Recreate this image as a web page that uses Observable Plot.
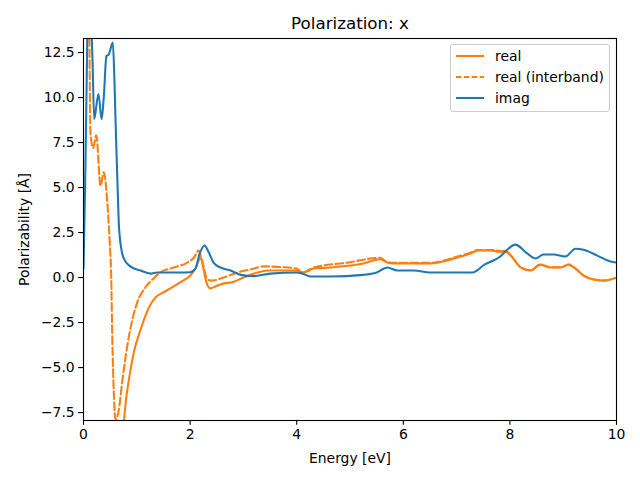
<!DOCTYPE html>
<html>
<head>
<meta charset="utf-8">
<script src="https://cdn.jsdelivr.net/npm/d3@7"></script>
<script src="https://cdn.jsdelivr.net/npm/@observablehq/plot@0.6"></script>
<style>
  html, body { margin: 0; padding: 0; background: #fff; }
  #wrap { position: relative; width: 640px; height: 480px; font-family: "DejaVu Sans", sans-serif; }
  #legend { position: absolute; left: 450px; top: 44px; width: 158px; height: 66px;
    border: 1px solid #cccccc; border-radius: 3px; background: rgba(255,255,255,0.8);
    font-size: 13.9px; color: #000; }
  .entry { position: absolute; left: 0; height: 20px; display: flex; align-items: center; }
  .entry svg { margin-left: 5px; margin-right: 11px; }
</style>
</head>
<body>
<div id="wrap"></div>
<script>
// ---- data ----
const seriesNames = ["real", "real (interband)", "imag"];
const seriesColors = ["#ff7f0e", "#ff7f0e", "#1f77b4"];

const energyReal = [0.70, 0.76, 0.79, 0.85, 0.94, 1.07, 1.23, 1.35, 1.50, 1.63, 1.82, 2.00, 2.10, 2.20, 2.25, 2.30, 2.38, 2.50, 2.63, 2.80, 3.00, 3.26, 3.45, 4.00, 4.13, 4.32, 4.63, 5.25, 5.57, 5.70, 5.82, 6.20, 6.50, 7.00, 7.26, 7.40, 7.64, 7.82, 7.92, 8.05, 8.20, 8.39, 8.57, 8.76, 8.95, 9.10, 9.23, 9.38, 9.57, 9.76, 10.0];
const valueReal  = [-12.0, -8.0, -7.0, -5.7, -4.2, -2.9, -1.65, -1.1, -0.82, -0.6, -0.25, 0.1, 0.5, 1.1, 0.5, -0.2, -0.6, -0.45, -0.33, -0.25, 0.0, 0.28, 0.39, 0.39, 0.28, 0.5, 0.56, 0.78, 1.02, 0.83, 0.78, 0.78, 0.78, 1.1, 1.33, 1.5, 1.5, 1.44, 1.44, 1.1, 0.56, 0.39, 0.72, 0.56, 0.56, 0.72, 0.5, 0.11, -0.11, -0.17, 0.0];

const energyInter = [0.08, 0.11, 0.13, 0.18, 0.24, 0.32, 0.38, 0.44, 0.49, 0.52, 0.54, 0.57, 0.60, 0.66, 0.73, 0.85, 1.00, 1.16, 1.31, 1.44, 1.69, 1.95, 2.07, 2.16, 2.22, 2.32, 2.40, 2.63, 2.89, 3.13, 3.38, 3.70, 4.00, 4.10, 4.32, 4.95, 5.57, 5.70, 5.85, 6.20, 6.50, 7.00, 7.26, 7.40, 7.64, 7.82, 7.92, 8.05, 8.20, 8.39, 8.57, 8.76, 8.95, 9.10, 9.23, 9.38, 9.57, 9.76, 10.0];
const valueInter  = [20.0, 13.3, 8.07, 7.2, 7.9, 5.1, 5.85, 4.46, 2.05, 0.0, -3.3, -6.5, -7.9, -7.4, -5.7, -3.3, -1.45, -0.55, -0.06, 0.28, 0.56, 0.83, 1.1, 1.5, 1.0, -0.06, -0.17, 0.0, 0.28, 0.45, 0.62, 0.58, 0.5, 0.28, 0.56, 0.83, 1.1, 0.85, 0.82, 0.82, 0.82, 1.15, 1.38, 1.53, 1.53, 1.48, 1.46, 1.12, 0.57, 0.4, 0.73, 0.57, 0.57, 0.73, 0.5, 0.12, -0.1, -0.16, 0.0];

const energyImag = [0.00, 0.03, 0.06, 0.08, 0.12, 0.17, 0.20, 0.28, 0.34, 0.38, 0.43, 0.475, 0.55, 0.58, 0.61, 0.64, 0.67, 0.75, 0.88, 1.07, 1.26, 1.38, 1.82, 2.00, 2.10, 2.18, 2.27, 2.35, 2.44, 2.57, 2.76, 2.95, 3.20, 3.50, 4.00, 4.10, 4.26, 4.63, 5.25, 5.50, 5.70, 5.89, 6.20, 6.50, 7.30, 7.38, 7.50, 7.82, 7.97, 8.10, 8.33, 8.48, 8.63, 8.82, 9.04, 9.23, 9.38, 9.64, 9.89, 10.0];
const valueImag  = [0.5, 5.0, 11.0, 14.5, 15.0, 12.0, 8.8, 10.2, 8.8, 10.0, 12.3, 12.4, 13.05, 11.0, 7.8, 5.0, 2.6, 1.1, 0.62, 0.39, 0.22, 0.28, 0.28, 0.3, 0.5, 1.33, 1.78, 1.4, 0.83, 0.56, 0.39, 0.15, 0.08, 0.22, 0.28, 0.22, 0.06, 0.06, 0.15, 0.28, 0.56, 0.39, 0.39, 0.28, 0.28, 0.39, 0.67, 1.17, 1.6, 1.83, 1.33, 1.06, 1.28, 1.28, 1.17, 1.6, 1.55, 1.22, 0.89, 0.83];

const xTicks = [0, 2, 4, 6, 8, 10];
const yTicks = [-7.5, -5.0, -2.5, 0.0, 2.5, 5.0, 7.5, 10.0, 12.5];
const titleText = "Polarization: x";
const xLabel = "Energy [eV]";
const yLabel = "Polarizability [Å]";

// ---- build tables ----
const real = energyReal.map((e, i) => ({e, v: valueReal[i]}));
const inter = energyInter.map((e, i) => ({e, v: valueInter[i]}));
const imag = energyImag.map((e, i) => ({e, v: valueImag[i]}));

const font = "DejaVu Sans, sans-serif";

const chart = Plot.plot({
  width: 640, height: 480,
  marginLeft: 83, marginRight: 24, marginTop: 38, marginBottom: 60,
  style: {fontFamily: font, fontSize: "13.9px", color: "#000", background: "#fff"},
  x: {domain: [0, 10]},
  y: {domain: [-7.94, 13.28]},
  marks: [
    Plot.line(real, {x: "e", y: "v", stroke: seriesColors[0], strokeWidth: 2.08, curve: "monotone-x", clip: true}),
    Plot.line(inter, {x: "e", y: "v", stroke: seriesColors[1], strokeWidth: 2.08, strokeDasharray: "7.7,3.3", curve: "monotone-x", clip: true}),
    Plot.line(imag, {x: "e", y: "v", stroke: seriesColors[2], strokeWidth: 2.08, curve: "monotone-x", clip: true}),
    Plot.frame({stroke: "#000", strokeWidth: 1.1}),
    Plot.axisX({ticks: xTicks, tickFormat: d3.format("d"), tickSize: 4.86, tickPadding: 4, strokeWidth: 1.1,
      label: xLabel, labelAnchor: "center", labelArrow: "none", labelOffset: 42, fontSize: 13.9}),
    Plot.axisY({ticks: yTicks, tickFormat: d3.format(".1f"), tickSize: 4.86, tickPadding: 4, strokeWidth: 1.1,
      label: yLabel, labelAnchor: "center", labelArrow: "none", labelOffset: 64, fontSize: 13.9}),
    Plot.text([titleText], {text: d => d, frameAnchor: "top", lineAnchor: "bottom", dy: -10, fontSize: 16.7, fill: "#000"})
  ]
});

const wrap = document.getElementById("wrap");
wrap.appendChild(chart);

// legend
const legend = document.createElement("div");
legend.id = "legend";
const dashes = [null, "5.5,2.4", null];
const tops = [1, 22, 43];
seriesNames.forEach((name, i) => {
  const row = document.createElement("div");
  row.className = "entry";
  row.style.top = tops[i] + "px";
  row.innerHTML = `<svg width="28" height="6"><line x1="0" y1="3" x2="28" y2="3" stroke="${seriesColors[i]}" stroke-width="2.08" ${dashes[i] ? `stroke-dasharray="${dashes[i]}"` : ""}/></svg><span>${name}</span>`;
  legend.appendChild(row);
});
wrap.appendChild(legend);
</script>
</body>
</html>
